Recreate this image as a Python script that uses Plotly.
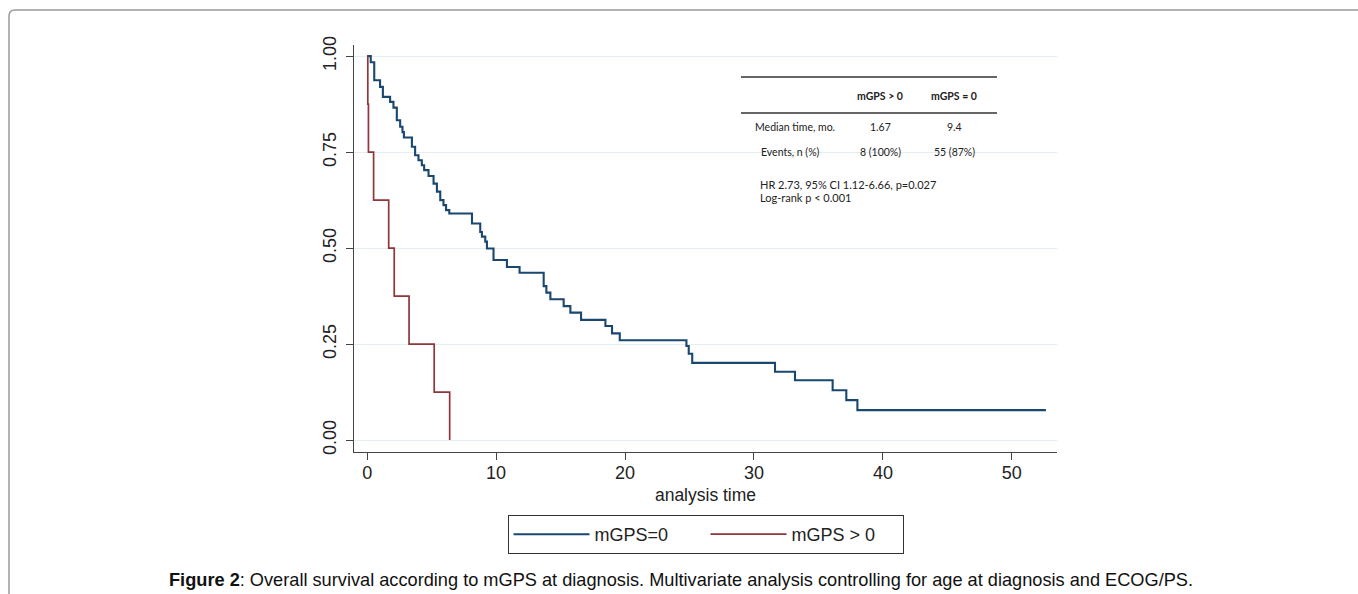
import plotly.graph_objects as go

# ---------------- data ----------------
blue_name = "mGPS=0"
blue_t = [0, 0.28, 0.55, 1.0, 1.22, 1.78, 2.04, 2.3, 2.56, 2.74, 2.85, 3.47, 3.72, 3.98,
          4.24, 4.42, 4.76, 5.15, 5.41, 5.67, 5.92, 6.12, 6.37, 8.13, 8.77, 8.9, 9.16,
          9.29, 9.8, 10.84, 11.82, 13.69, 13.9, 14.21, 15.24, 15.76, 16.59, 18.48,
          18.99, 19.59, 24.76, 24.94, 25.21, 31.63, 33.18, 36.1, 37.16, 38.02, 52.64]
blue_s = [1.0, 0.984, 0.937, 0.920, 0.894, 0.881, 0.866, 0.833, 0.816, 0.802, 0.788,
          0.764, 0.742, 0.729, 0.716, 0.703, 0.688, 0.668, 0.647, 0.625, 0.612, 0.599,
          0.590, 0.564, 0.542, 0.530, 0.517, 0.499, 0.469, 0.451, 0.436, 0.401, 0.384,
          0.367, 0.349, 0.332, 0.313, 0.297, 0.278, 0.260, 0.245, 0.225, 0.201, 0.178,
          0.156, 0.130, 0.104, 0.078, 0.078]

red_name = "mGPS > 0"
red_t = [0, 0.05, 0.1, 0.5, 1.67, 2.1, 3.25, 5.2, 6.4]
red_s = [1.0, 0.875, 0.75, 0.625, 0.5, 0.375, 0.25, 0.125, 0.0]

x_ticks = [0, 10, 20, 30, 40, 50]
y_ticks = [0, 0.25, 0.5, 0.75, 1.0]

table_cols = ["mGPS > 0", "mGPS = 0"]
table_rows = ["Median time, mo.", "Events, n (%)"]
table_vals = [["1.67", "9.4"], ["8 (100%)", "55 (87%)"]]
stats_text = ["HR 2.73, 95% CI 1.12-6.66, p=0.027", "Log-rank p < 0.001"]

caption = ("<b>Figure 2</b>: Overall survival according to mGPS at diagnosis. "
           "Multivariate analysis controlling for age at diagnosis and ECOG/PS.")

# ---------------- layout geometry ----------------
W, H = 1358, 594
L, R, T, B = 354, 1057, 45, 452
PW, PH = R - L, B - T


def px(x):
    return (x - L) / PW


def py(y):
    return (B - y) / PH


BLUE = "#1a476f"
RED = "#90353b"
AX = "#444444"
GRID = "#e3eef1"

fig = go.Figure()
fig.add_trace(go.Scatter(x=blue_t, y=blue_s, mode="lines", name=blue_name,
                         line=dict(color=BLUE, width=2.1, shape="hv")))
fig.add_trace(go.Scatter(x=red_t, y=red_s, mode="lines", name=red_name,
                         line=dict(color=RED, width=1.7, shape="hv")))

font_main = "Liberation Sans, Arial, sans-serif"
font_tab = "Lato, Open Sans, sans-serif"

fig.update_layout(
    width=W, height=H,
    margin=dict(l=L, r=W - R, t=T, b=H - B, pad=0),
    paper_bgcolor="white", plot_bgcolor="white",
    font=dict(family=font_main, color="#222222"),
    showlegend=True,
    legend=dict(orientation="h", x=0.5, xanchor="center", y=py(515), yanchor="top",
                bordercolor="#333333", borderwidth=1, bgcolor="white",
                font=dict(size=18, family=font_main, color="#222222"),
                entrywidth=106, itemwidth=76),
    xaxis=dict(range=[-1.02, 53.5], tickvals=x_ticks, ticks="outside", ticklen=7,
               tickwidth=1.2, tickcolor=AX, showline=True, linecolor=AX, linewidth=1.3,
               showgrid=False, zeroline=False, ticklabelstandoff=-3,
               tickfont=dict(size=18, family=font_main, color="#222222"),
               title=dict(text="analysis time", font=dict(size=17.5, family=font_main, color="#222222"),
                          standoff=6)),
    yaxis=dict(range=[-0.031, 1.029], tickvals=y_ticks, tickformat=".2f", ticks="outside",
               ticklen=7, tickwidth=1.2, tickcolor=AX, showline=True, linecolor=AX,
               linewidth=1.3, showgrid=True, gridcolor=GRID, gridwidth=1, zeroline=False,
               tickangle=-90, ticklabelstandoff=3,
               tickfont=dict(size=18, family=font_main, color="#222222")),
)

shapes = []
# outer rounded frame (page border)
x0, y0, r = 9, 10, 6
path = (f"M {px(x0)},{py(600)} L {px(x0)},{py(y0 + r)} "
        f"Q {px(x0)},{py(y0)} {px(x0 + r)},{py(y0)} L {px(1365)},{py(y0)}")
shapes.append(dict(type="path", path=path, xref="paper", yref="paper",
                   line=dict(color="#9a9a9a", width=1.5), layer="above"))
# table rules
for yy in (77, 113):
    shapes.append(dict(type="line", xref="paper", yref="paper", x0=px(741), x1=px(997),
                       y0=py(yy), y1=py(yy), line=dict(color="#333333", width=1.5)))
fig.update_layout(shapes=shapes)

ann = []
col_x = [880, 954]
for cx, c in zip(col_x, table_cols):
    ann.append(dict(x=px(cx), y=py(95.5), text=f"<b>{c}</b>", showarrow=False,
                    xref="paper", yref="paper", xanchor="center", yanchor="middle",
                    font=dict(size=10.5, family=font_tab, color="#222222")))
row_y = [126.7, 152.3]
row_x = [795, 790]
for ry, rx, rn, vals in zip(row_y, row_x, table_rows, table_vals):
    ann.append(dict(x=px(rx), y=py(ry), text=rn, showarrow=False, xref="paper", yref="paper",
                    xanchor="center", yanchor="middle",
                    font=dict(size=10.5, family=font_tab, color="#222222")))
    for cx, v in zip(col_x, vals):
        ann.append(dict(x=px(cx), y=py(ry), text=v, showarrow=False, xref="paper",
                        yref="paper", xanchor="center", yanchor="middle",
                        font=dict(size=10.5, family=font_tab, color="#222222")))
for sy, st in zip([184, 197], stats_text):
    ann.append(dict(x=px(758), y=py(sy), text=st, showarrow=False, xref="paper",
                    yref="paper", xanchor="left", yanchor="middle",
                    font=dict(size=11, family=font_tab, color="#222222")))
ann.append(dict(x=px(681), y=py(580), text=caption, showarrow=False, xref="paper",
                yref="paper", xanchor="center", yanchor="middle",
                font=dict(size=18.2, family=font_main, color="#111111")))
fig.update_layout(annotations=ann)

fig.write_html("out.html", config={"displayModeBar": False},
               post_script="document.body.style.margin='0px';document.body.style.overflow='hidden';")
